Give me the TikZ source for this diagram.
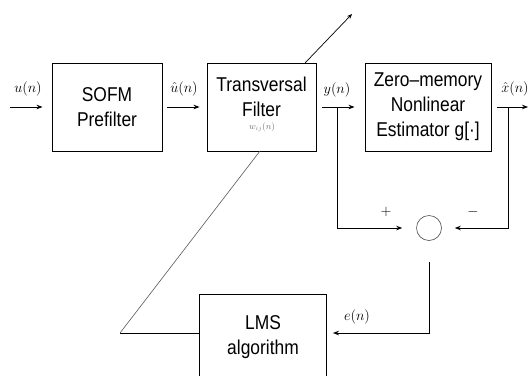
\documentclass[tikz,border=0pt]{standalone}
\usepackage{fontspec}
\setmainfont{Liberation Sans}[FakeStretch=0.87]
\usetikzlibrary{arrows.meta,calc}
\begin{document}
\begin{tikzpicture}[x=1pt,y=-1pt,
  blk/.style={draw,line width=0.9pt,inner sep=0pt,align=center,font=\fontsize{20}{25}\selectfont},
  btxt/.style={inner sep=0pt,align=center,font=\fontsize{20}{25}\selectfont},
  sig/.style={line width=0.8pt,-{Stealth[length=6pt,width=4.5pt]}},
  wire/.style={line width=0.8pt},
  thin/.style={line width=0.6pt,black!65},
  lbl/.style={inner sep=0pt,font=\fontsize{14}{16}\selectfont}]
\useasboundingbox (0,0) rectangle (529,375);
% blocks
\node[blk,minimum width=110pt,minimum height=88pt] (sofm) at (107,107) {SOFM\\Prefilter};
\node[blk,minimum width=109pt,minimum height=88pt] (tf) at (261.5,107) {};
\node[btxt] (tftext) at (261.5,97) {Transversal\\Filter};
\node[inner sep=0pt,black!55,font=\fontsize{9}{10}\selectfont] (wlbl) at (262,127) {$w_{ij}(n)$};
\node[blk,minimum width=126pt,minimum height=88pt] (zm) at (428,107) {Zero--memory\\Nonlinear\\Estimator g[·]};
\node[blk,minimum width=127pt,minimum height=86pt] (lms) at (263,337) {LMS\\algorithm};
\node[draw,circle,line width=0.6pt,black!70,minimum size=25pt,inner sep=0pt] (sum) at (429,228) {};
% coordinates
\coordinate (in) at (10,107);
\coordinate (out) at (528,107);
\coordinate (yfork) at (337,107);
\coordinate (xfork) at (508.5,107);
\coordinate (lmsR) at ([yshift=4pt]lms.east);
\coordinate (lmsL) at ([yshift=4pt]lms.west);
\coordinate (bend) at (120,333);
\coordinate (tfb) at (260,151);
\coordinate (tft) at (305,63);
\coordinate (tip) at (352,14);
% signal arrows
\draw[sig,shorten >=9pt] (in) -- (sofm.west);
\draw[sig,shorten <=5pt,shorten >=7pt] (sofm) -- (tf);
\draw[sig,shorten <=6pt,shorten >=10pt] (tf) -- (zm);
\draw[sig,shorten <=6pt] (zm.east) -- (out);
\draw[sig,shorten >=14pt] (yfork) |- (sum.west);
\draw[sig,shorten >=13pt] (xfork) |- (sum.east);
\draw[sig,shorten <=21pt,shorten >=6pt] (sum.south) |- (lmsR);
% adaptation path
\draw[wire] (lmsL) -- (bend);
\draw[thin] (bend) -- (tfb);
\draw[line width=0.7pt,-{Stealth[length=5pt,width=4pt]}] (tft) -- (tip);
% labels
\node[lbl] (lu) at (28,89) {$u(n)$};
\node[lbl] (luh) at (184,89) {$\hat{u}(n)$};
\node[lbl] (ly) at (337,90) {$y(n)$};
\node[lbl] (lx) at (515,89) {$\hat{x}(n)$};
\node[lbl] (lp) at (386,212) {$+$};
\node[lbl] (lm) at (473,212) {$-$};
\node[lbl] (le) at (357,317) {$e(n)$};
\end{tikzpicture}
\end{document}
